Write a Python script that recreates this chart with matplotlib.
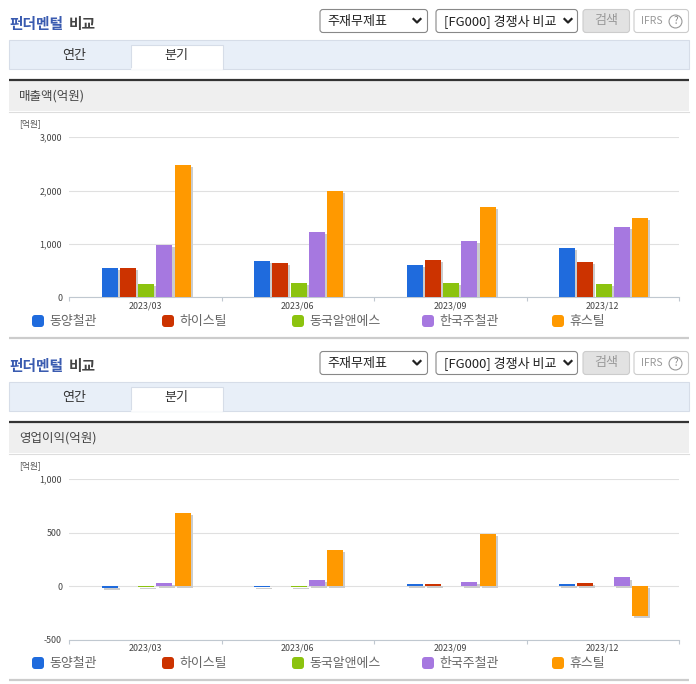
import numpy as np
import matplotlib
matplotlib.use("Agg")
import matplotlib.pyplot as plt
import matplotlib.patheffects as pe
from matplotlib.patches import Rectangle, FancyBboxPatch

plt.rcParams['font.family'] = ['Noto Sans CJK KR', 'DejaVu Sans']

W, H = 696, 684

quarters = ['2023/03', '2023/06', '2023/09', '2023/12']
companies = ['동양철관', '하이스틸', '동국알앤에스', '한국주철관', '휴스틸']
colors = ['#1f6bdd', '#cc3300', '#8cc30f', '#a678e0', '#ff9900']

# values in 억원, one list per company
sales_a = [560, 690, 600, 920]
sales_b = [560, 640, 710, 670]
sales_c = [260, 280, 270, 260]
sales_d = [980, 1220, 1050, 1310]
sales_e = [2470, 1990, 1700, 1480]

profit_a = [-20, -10, 15, 18]
profit_b = [0, 0, 15, 25]
profit_c = [-12, -12, 0, 0]
profit_d = [25, 55, 35, 80]
profit_e = [680, 335, 490, -280]

fig = plt.figure(figsize=(W / 100, H / 100), dpi=100, facecolor='white')

# whole figure in pixel coords for the page furniture
ui = fig.add_axes([0, 0, 1, 1])
ui.set_xlim(0, W)
ui.set_ylim(H, 0)
ui.axis('off')


def box(x0, y0, x1, y1, fc, ec, lw=1.0, rounded=False):
    if rounded:
        p = FancyBboxPatch((x0, y0), x1 - x0, y1 - y0, boxstyle='round,pad=0,rounding_size=3',
                           fc=fc, ec=ec, lw=lw)
    else:
        p = Rectangle((x0, y0), x1 - x0, y1 - y0, fc=fc, ec=ec, lw=lw)
    ui.add_patch(p)


def chevron(x, y):
    ui.plot([x - 3.5, x, x + 3.5], [y - 2, y + 1.5, y - 2], color='#222222', lw=1.6)


def panel(off, label):
    ui.text(9.5, 24 + off, '펀더멘털', color='#3a5bb0', fontsize=10.6, fontweight='bold', va='center')
    ui.text(69, 24 + off, '비교', color='#444444', fontsize=10.6, fontweight='bold', va='center')

    box(320, 9.5 + off, 427.5, 32.5 + off, 'white', '#888888', lw=0.8, rounded=True)
    ui.text(327.5, 21 + off, '주재무제표', color='#222222', fontsize=9.4, va='center')
    chevron(417, 21 + off)
    box(436, 9.5 + off, 577.5, 32.5 + off, 'white', '#888888', lw=0.8, rounded=True)
    ui.text(444.5, 21 + off, '[FG000] 경쟁사 비교', color='#222222', fontsize=9.4, va='center')
    chevron(568, 21 + off)
    box(583, 9.5 + off, 629.5, 32.5 + off, '#e2e2e2', '#cccccc', lw=0.8, rounded=True)
    ui.text(606.5, 20.5 + off, '검색', color='#999999', fontsize=9.4, ha='center', va='center')
    box(634, 9.5 + off, 688.5, 32.5 + off, 'white', '#cccccc', lw=0.8, rounded=True)
    ui.text(641, 21 + off, 'IFRS', color='#999999', fontsize=7.5, va='center')
    ui.text(675.5, 21.5 + off, '?', color='#888888', fontsize=7, ha='center', va='center',
            bbox=dict(boxstyle='circle,pad=0.15', fc='white', ec='#999999', lw=0.8))

    box(9, 39.5 + off, 688.5, 68.5 + off, '#e8eff8', '#d6dde8', lw=0.8)
    box(131, 44.5 + off, 222.5, 68.5 + off, 'white', '#d6dde8', lw=0.8)
    ui.plot([132, 222], [68.7 + off, 68.7 + off], color='white', lw=1.2)
    ui.text(74, 55 + off, '연간', color='#333333', fontsize=9.4, ha='center', va='center')
    ui.text(176, 55 + off, '분기', color='#333333', fontsize=9.4, ha='center', va='center')

    box(9, 81 + off, 689, 111 + off, '#efefef', 'none', lw=0)
    ui.plot([9, 689], [111.5 + off, 111.5 + off], color='#dddddd', lw=0.8)
    ui.plot([9, 689], [80 + off, 80 + off], color='#333333', lw=1.6, solid_capstyle='butt')
    ui.text(19, 96 + off, label, color='#444444', fontsize=9, va='center')
    ui.text(19, 123.5 + off, '[억원]', color='#555555', fontsize=6.3, va='center')

    for i in range(5):
        x = 32 + i * 130
        box(x, 315 + off, x + 12, 327 + off, colors[i], 'none', lw=0, rounded=True)
        ui.text(x + 17, 321 + off, companies[i], color='#666666', fontsize=9.3, va='center')
    ui.plot([9, 689], [338 + off, 338 + off], color='#cccccc', lw=1.6, solid_capstyle='butt')


def chart(off, series, ylim, yticks):
    top = (137 + off) / H
    bottom = (297.5 + off) / H
    ax = fig.add_axes([69 / W, 1 - bottom, (679 - 69) / W, bottom - top])
    ax.patch.set_alpha(0)
    n = len(quarters)
    x = np.arange(n)
    for i, vals in enumerate(series):
        bars = ax.bar(x + (i - 2) * 0.12 + 0.006, vals, width=0.105, color=colors[i], zorder=3)
        for b in bars:
            b.set_path_effects([pe.SimplePatchShadow(offset=(1.5, -1.5), shadow_rgbFace='#cccccc', alpha=1.0),
                                pe.Normal()])
    ax.set_xlim(-0.5, n - 0.5)
    ax.set_ylim(*ylim)
    ax.set_yticks(yticks)
    ax.set_yticklabels([f'{v:,}' for v in yticks], fontsize=6.4, color='#444444')
    ax.tick_params(axis='y', length=0, pad=5)
    ax.grid(axis='y', color='#e0e0e0', lw=0.8, zorder=0)
    ax.set_axisbelow(True)
    # ticks at category edges, labels at the centres
    ax.set_xticks(np.arange(n + 1) - 0.5)
    ax.set_xticklabels([])
    ax.tick_params(axis='x', which='major', length=3, width=0.8, color='#c0c8d0')
    ax.set_xticks(x, minor=True)
    ax.set_xticklabels(quarters, minor=True, fontsize=6.4, color='#444444')
    ax.tick_params(axis='x', which='minor', length=0, pad=3)
    for s in ['top', 'left', 'right']:
        ax.spines[s].set_visible(False)
    ax.spines['bottom'].set_color('#c0c8d0')
    ax.spines['bottom'].set_linewidth(0.8)
    return ax


panel(0, '매출액(억원)')
panel(342, '영업이익(억원)')

chart(0, [sales_a, sales_b, sales_c, sales_d, sales_e], (0, 3000), [0, 1000, 2000, 3000])
chart(342, [profit_a, profit_b, profit_c, profit_d, profit_e], (-500, 1000), [-500, 0, 500, 1000])

fig.savefig('out.png', dpi=100)
